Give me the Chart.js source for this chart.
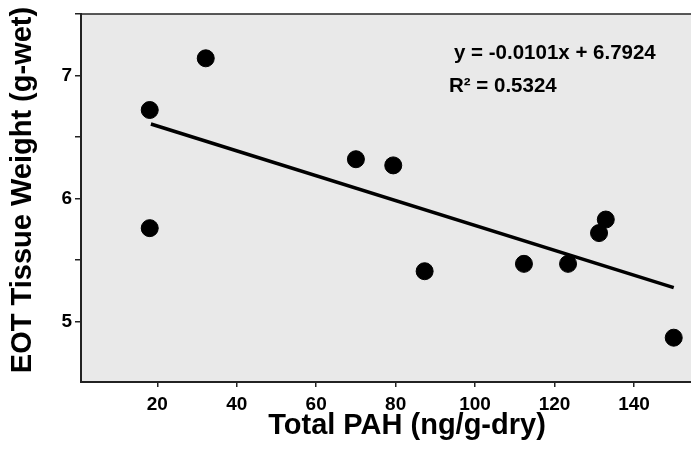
<!DOCTYPE html>
<html>
<head>
<meta charset="utf-8">
<script src="https://cdn.jsdelivr.net/npm/chart.js@4.4.1/dist/chart.umd.min.js"></script>
<style>
  html, body { margin: 0; padding: 0; background: #fff; }
  #wrap { width: 691px; height: 453px; }
</style>
</head>
<body>
<div id="wrap"><canvas id="chart"></canvas></div>
<script>
// === Data ===
const pahValues = [18.1, 32.2, 18.1, 70.0, 79.4, 87.3, 112.3, 123.4, 131.2, 132.9, 150.0];
const weightValues = [6.72, 7.14, 5.76, 6.32, 6.27, 5.41, 5.47, 5.47, 5.72, 5.83, 4.87];
const trendSlope = -0.0101;
const trendIntercept = 6.7924;
const trendX = [18.4, 150.0];
const equationText = "y = -0.0101x + 6.7924";
const r2Text = "R\u00B2 = 0.5324";
const xTitle = "Total PAH (ng/g-dry)";
const yTitle = "EOT Tissue Weight (g-wet)";

const FONT = "'Liberation Sans', Arial, Helvetica, sans-serif";

const points = pahValues.map((x, i) => ({ x: x, y: weightValues[i] }));
const trendPoints = trendX.map(x => ({ x: x, y: trendSlope * x + trendIntercept }));

// === Plot background, top border, texts ===
const decor = {
  id: "decor",
  beforeDraw(chart) {
    const { ctx, chartArea: a } = chart;
    ctx.save();
    ctx.fillStyle = "#e9e9e9";
    ctx.fillRect(a.left, a.top, a.right - a.left, a.bottom - a.top);
    ctx.restore();
  },
  afterDraw(chart) {
    const { ctx, chartArea: a } = chart;
    ctx.save();
    ctx.strokeStyle = "#222";
    ctx.lineWidth = 1.5;
    ctx.beginPath();
    ctx.moveTo(a.left, a.top);
    ctx.lineTo(a.right, a.top);
    ctx.stroke();

    ctx.fillStyle = "#000";
    ctx.textAlign = "left";
    ctx.textBaseline = "alphabetic";
    ctx.font = "bold 20.5px " + FONT;
    ctx.fillText(equationText, 454, 59);
    ctx.fillText(r2Text, 449, 92);

    ctx.font = "bold 29px " + FONT;
    ctx.textAlign = "center";
    ctx.fillText(xTitle, 407, 434);

    ctx.translate(23, 190);
    ctx.rotate(-Math.PI / 2);
    ctx.textBaseline = "middle";
    ctx.fillText(yTitle, 0, 0);
    ctx.restore();
  }
};

const ctx = document.getElementById("chart").getContext("2d");
new Chart(ctx, {
  type: "scatter",
  data: {
    datasets: [
      {
        label: "Samples",
        data: points,
        backgroundColor: "#000",
        borderColor: "#000",
        pointRadius: 8.5,
        pointHoverRadius: 8.5
      },
      {
        type: "line",
        label: "Trend",
        data: trendPoints,
        borderColor: "#000",
        borderWidth: 3.5,
        pointRadius: 0,
        fill: false
      }
    ]
  },
  options: {
    responsive: true,
    maintainAspectRatio: false,
    animation: false,
    layout: { autoPadding: false, padding: { top: 14, right: 0, left: 0, bottom: 0 } },
    plugins: { legend: { display: false }, tooltip: { enabled: false } },
    scales: {
      x: {
        type: "linear",
        min: 0.8,
        max: 154.35,
        afterFit(scale) {
          scale.height = 71;
          scale.paddingLeft = 0;
          scale.paddingRight = 0;
        },
        border: { display: true, color: "#222", width: 2 },
        grid: { drawOnChartArea: false, drawTicks: true, tickLength: 5, color: "#222", lineWidth: 1.5 },
        ticks: {
          stepSize: 20,
          includeBounds: false,
          maxRotation: 0,
          padding: 6,
          color: "#000",
          font: { family: FONT, size: 19, weight: "bold" }
        }
      },
      y: {
        type: "linear",
        min: 4.51,
        max: 7.5,
        afterFit(scale) {
          scale.width = 81;
          scale.paddingTop = 0;
          scale.paddingBottom = 0;
        },
        border: { display: true, color: "#222", width: 2 },
        grid: { drawOnChartArea: false, drawTicks: true, tickLength: 6, color: "#222", lineWidth: 1.5 },
        ticks: {
          stepSize: 0.5,
          includeBounds: false,
          padding: 3,
          color: "#000",
          font: { family: FONT, size: 19, weight: "bold" },
          callback: v => Number.isInteger(v) ? String(v) : ""
        }
      }
    }
  },
  plugins: [decor]
});
</script>
</body>
</html>
